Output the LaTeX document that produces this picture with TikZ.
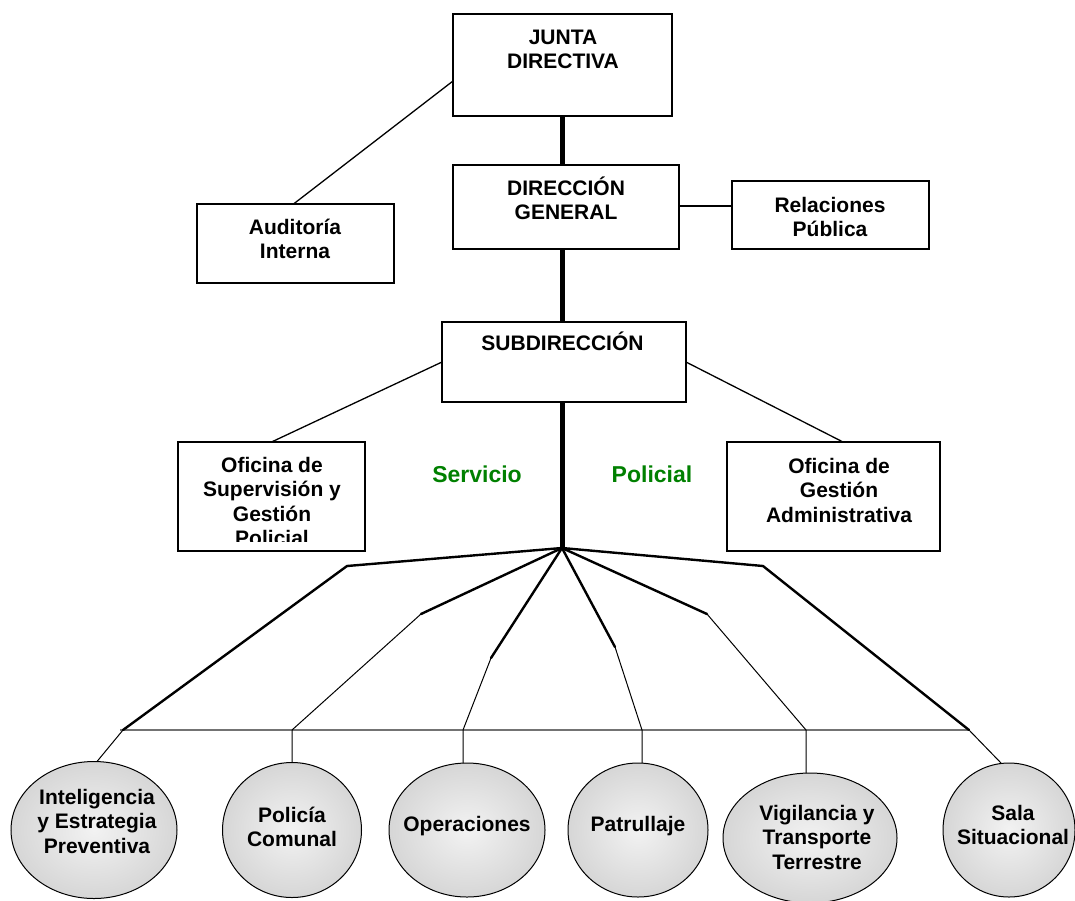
\documentclass[tikz,border=0pt]{standalone}
\usepackage{fontspec}
\setmainfont{Liberation Sans}
\usetikzlibrary{shapes.geometric,calc}
\pgfdeclareradialshading{ellshade}{\pgfpoint{0bp}{0bp}}{color(0bp)=(black!5); color(50bp)=(black!27)}
\definecolor{sgreen}{RGB}{0,128,0}
\newcommand{\lines}[1]{\begin{tabular}[t]{@{}c@{}}#1\end{tabular}}
\begin{document}
\begin{tikzpicture}[x=1pt,y=-1pt,
  box/.style={draw=black, line width=1.3pt, rectangle, inner sep=0pt, outer sep=0pt},
  oval/.style={draw=black, line width=1pt, ellipse, inner sep=0pt, outer sep=0pt, shade, shading=ellshade},
  lbl/.style={anchor=base, inner sep=0pt, font=\fontsize{21}{24.5}\selectfont\bfseries},
  green lbl/.style={anchor=base, inner sep=0pt, text=sgreen, font=\fontsize{23}{27}\selectfont\bfseries},
  conn/.style={line width=1.3pt},
  spine/.style={line width=5pt},
  brthick/.style={line width=2.4pt, line cap=round, line join=round},
  brthin/.style={line width=1pt},
  bar/.style={line width=1.8pt, draw=black!55}]
\useasboundingbox (0,0) rectangle (1075,900);

% boxes
\node[box, minimum width=219, minimum height=102] (junta) at (562.5,65) {};
\node[box, minimum width=226, minimum height=84] (dir) at (566,207) {};
\node[box, minimum width=197, minimum height=68] (rel) at (830.5,215) {};
\node[box, minimum width=197, minimum height=79] (aud) at (295.5,243.5) {};
\node[box, minimum width=244, minimum height=80] (sub) at (564,362) {};
\node[box, minimum width=187, minimum height=109] (ofs) at (271.5,496.5) {};
\node[box, minimum width=213, minimum height=109] (ofg) at (833.5,496.5) {};

% box texts
\node[lbl] (tjunta) at (563,44) {\lines{JUNTA\\DIRECTIVA}};
\node[lbl] (tdir) at (566,195) {\lines{DIRECCIÓN\\GENERAL}};
\node[lbl] (trel) at (830,212) {\lines{Relaciones\\Pública}};
\node[lbl] (taud) at (295,234) {\lines{Auditoría\\Interna}};
\node[lbl] (tsub) at (562.5,350) {SUBDIRECCIÓN};
\begin{scope}
  \clip (178,442) rectangle (365,541);
  \node[lbl] (tofs) at (272,472) {\lines{Oficina de\\Supervisión y\\Gestión\\Policial}};
\end{scope}
\node[lbl] (tofg) at (839,473) {\lines{Oficina de\\Gestión\\Administrativa}};
\node[green lbl] (tserv) at (477,482) {Servicio};
\node[green lbl] (tpol) at (652,482) {Policial};

% spine
\coordinate (hub) at (562,548);
\draw[spine] (junta.south -| hub) -- (dir.north -| hub);
\draw[spine] (dir.south -| hub) -- (sub.north -| hub);
\draw[spine] (sub.south -| hub) -- (hub);

% side connectors
\draw[conn] ([yshift=-16pt]junta.west) -- ([xshift=-2pt]aud.north);
\coordinate (relin) at ([yshift=9pt]rel.west);
\draw[conn] (dir.east |- relin) -- (relin);
\draw[conn] (sub.west) -- (ofs.north);
\draw[conn] (sub.east) -- ([xshift=9.5pt]ofg.north);

% horizontal bar
\coordinate (barL) at (120,730);
\coordinate (barR) at (970,730);
\draw[bar] (barL) -- (barR);

% branch points
\coordinate (b1) at (347,566); \coordinate (h1) at (123,730);
\coordinate (b2) at (421,614); \coordinate (h2) at (292,730);
\coordinate (b3) at (491,658); \coordinate (h3) at (463,730);
\coordinate (b4) at (615,647); \coordinate (h4) at (642,730);
\coordinate (b5) at (707,614); \coordinate (h5) at (806,730);
\coordinate (b6) at (763,566); \coordinate (h6) at (969,730);

% ellipses
\node[oval, minimum width=166, minimum height=137] (e1) at (94,830) {};
\node[oval, minimum width=139, minimum height=135] (e2) at (292,830) {};
\node[oval, minimum width=156, minimum height=134] (e3) at (467,830) {};
\node[oval, minimum width=140, minimum height=134] (e4) at (638,830) {};
\node[oval, minimum width=174, minimum height=130] (e5) at (810,838) {};
\node[oval, minimum width=132, minimum height=134] (e6) at (1009,830) {};

% branches
\draw[brthick] (hub) -- (b1) -- (h1);
\draw[brthin] (h1) -- ([xshift=3pt]e1.north);
\draw[brthick] (hub) -- (b2);
\draw[brthin] (b2) -- (h2) -- (e2.north -| h2);
\draw[brthick] (hub) -- (b3);
\draw[brthin] (b3) -- (h3) -- (e3.north -| h3);
\draw[brthick] (hub) -- (b4);
\draw[brthin] (b4) -- (h4) -- (e4.north -| h4);
\draw[brthick] (hub) -- (b5);
\draw[brthin] (b5) -- (h5) -- (e5.north -| h5);
\draw[brthick] (hub) -- (b6) -- (h6);
\draw[brthin] (h6) -- ([xshift=-8pt]e6.north);

% ellipse texts
\node[lbl] (te1) at (97,804) {\lines{Inteligencia\\y Estrategia\\Preventiva}};
\node[lbl] (te2) at (292,822) {\lines{Policía\\Comunal}};
\node[lbl] (te3) at (467,831) {Operaciones};
\node[lbl] (te4) at (638,831) {Patrullaje};
\node[lbl] (te5) at (817,820) {\lines{Vigilancia y\\Transporte\\Terrestre}};
\node[lbl] (te6) at (1013,820) {\lines{Sala\\Situacional}};
\end{tikzpicture}
\end{document}
